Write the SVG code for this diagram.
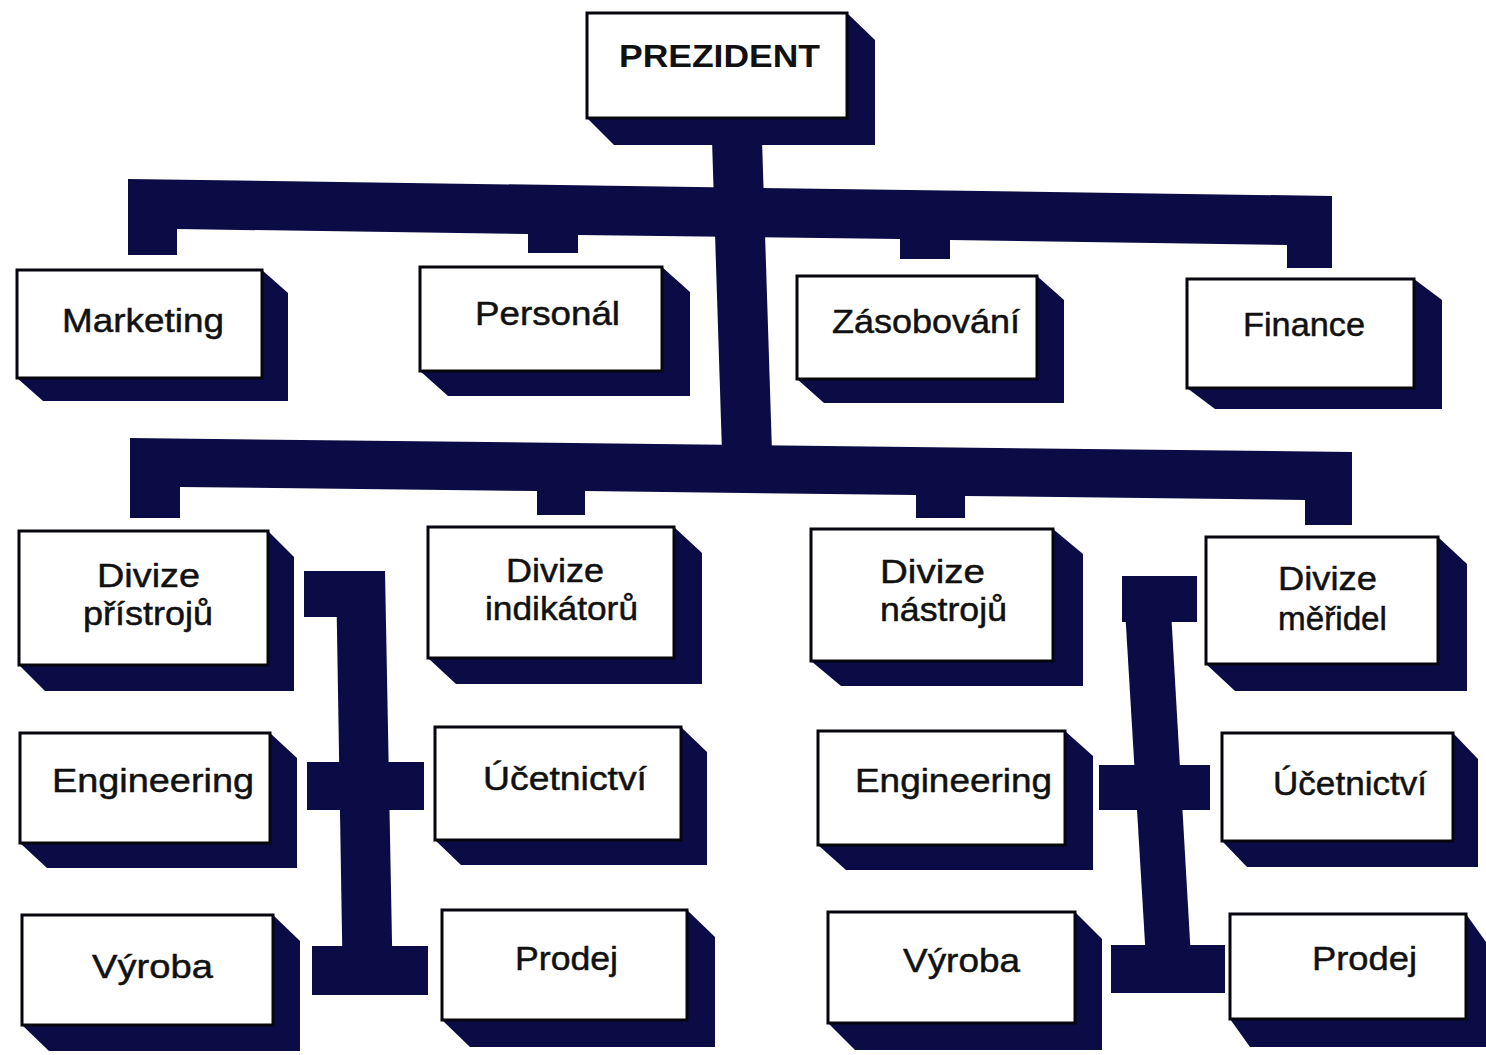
<svg xmlns="http://www.w3.org/2000/svg" width="1486" height="1055" viewBox="0 0 1486 1055">
  <style>
    .bar { fill: #0b0b46; }
    .side { fill: #0b0b46; }
    .face { fill: #ffffff; stroke: #06060f; stroke-width: 3; }
    .lbl { font-family: "Liberation Sans", Arial, sans-serif; font-size: 34px; fill: #111111; stroke: #111111; stroke-width: 0.5; }
    .title { font-family: "Liberation Sans", Arial, sans-serif; font-size: 31px; font-weight: bold; fill: #111111; }
  </style>
  <rect width="1486" height="1055" fill="#ffffff"/>

  <!-- connectors -->
  <g id="connectors">
    <!-- trunk from president down to second bar -->
    <polygon class="bar" points="712,140 762,140 772,452 722,452"/>
    <!-- staff bar with drops -->
    <polygon class="bar" points="128,179 1332,196 1332,268 1287,268 1287,245 950,240 950,259 900,259 900,239 578,235 578,253 528,253 528,234 177,229 177,255 128,255"/>
    <!-- division bar with drops -->
    <polygon class="bar" points="130,438 1352,452 1352,525 1305,525 1305,500 965,496 965,518 916,518 916,495 585,491 585,515 537,515 537,491 180,487 180,518 130,518"/>
    <!-- left I-beam -->
    <rect class="bar" x="304" y="571" width="81" height="46"/>
    <polygon class="bar" points="336,571 385,571 393,995 343,995"/>
    <rect class="bar" x="307" y="762" width="117" height="48"/>
    <rect class="bar" x="312" y="946" width="116" height="49"/>
    <!-- right I-beam -->
    <rect class="bar" x="1122" y="576" width="75" height="46"/>
    <polygon class="bar" points="1123,576 1169,576 1193,993 1148,993"/>
    <rect class="bar" x="1099" y="765" width="111" height="45"/>
    <rect class="bar" x="1111" y="945" width="114" height="48"/>
  </g>

  <!-- nodes: extruded side, then front face, then label -->
  <g id="prezident">
    <polygon class="side" points="847,13 875,40 875,145 614,145 587,118"/>
    <rect class="face" x="587" y="13" width="260" height="105"/>
    <text class="title" x="619" y="67" textLength="201" lengthAdjust="spacingAndGlyphs">PREZIDENT</text>
  </g>

  <g id="marketing">
    <polygon class="side" points="262,270 288,293 288,401 43,401 17,378"/>
    <rect class="face" x="17" y="270" width="245" height="108"/>
    <text class="lbl" x="62" y="332" textLength="162" lengthAdjust="spacingAndGlyphs">Marketing</text>
  </g>

  <g id="personal">
    <polygon class="side" points="662,267 690,292 690,396 448,396 420,371"/>
    <rect class="face" x="420" y="267" width="242" height="104"/>
    <text class="lbl" x="475" y="325" textLength="145" lengthAdjust="spacingAndGlyphs">Personál</text>
  </g>

  <g id="zasobovani">
    <polygon class="side" points="1037,276 1064,300 1064,403 824,403 797,379"/>
    <rect class="face" x="797" y="276" width="240" height="103"/>
    <text class="lbl" x="832" y="333" textLength="188" lengthAdjust="spacingAndGlyphs">Zásobování</text>
  </g>

  <g id="finance">
    <polygon class="side" points="1414,279 1442,300 1442,409 1215,409 1187,388"/>
    <rect class="face" x="1187" y="279" width="227" height="109"/>
    <text class="lbl" x="1243" y="336" textLength="122" lengthAdjust="spacingAndGlyphs">Finance</text>
  </g>

  <g id="divize-pristroju">
    <polygon class="side" points="268,531 294,557 294,691 45,691 19,665"/>
    <rect class="face" x="19" y="531" width="249" height="134"/>
    <text class="lbl" x="97" y="587" textLength="103" lengthAdjust="spacingAndGlyphs">Divize</text>
    <text class="lbl" x="83" y="625" textLength="130" lengthAdjust="spacingAndGlyphs">přístrojů</text>
  </g>

  <g id="divize-indikatoru">
    <polygon class="side" points="674,527 702,553 702,684 456,684 428,658"/>
    <rect class="face" x="428" y="527" width="246" height="131"/>
    <text class="lbl" x="506" y="582" textLength="98" lengthAdjust="spacingAndGlyphs">Divize</text>
    <text class="lbl" x="485" y="620" textLength="153" lengthAdjust="spacingAndGlyphs">indikátorů</text>
  </g>

  <g id="divize-nastroju">
    <polygon class="side" points="1053,529 1083,554 1083,686 841,686 811,661"/>
    <rect class="face" x="811" y="529" width="242" height="132"/>
    <text class="lbl" x="880" y="583" textLength="105" lengthAdjust="spacingAndGlyphs">Divize</text>
    <text class="lbl" x="880" y="621" textLength="127" lengthAdjust="spacingAndGlyphs">nástrojů</text>
  </g>

  <g id="divize-meridel">
    <polygon class="side" points="1438,537 1467,564 1467,691 1235,691 1206,664"/>
    <rect class="face" x="1206" y="537" width="232" height="127"/>
    <text class="lbl" x="1278" y="590" textLength="99" lengthAdjust="spacingAndGlyphs">Divize</text>
    <text class="lbl" x="1278" y="630" textLength="109" lengthAdjust="spacingAndGlyphs">měřidel</text>
  </g>

  <g id="engineering-1">
    <polygon class="side" points="270,733 297,758 297,868 47,868 20,843"/>
    <rect class="face" x="20" y="733" width="250" height="110"/>
    <text class="lbl" x="52" y="792" textLength="202" lengthAdjust="spacingAndGlyphs">Engineering</text>
  </g>

  <g id="ucetnictvi-1">
    <polygon class="side" points="681,727 707,752 707,865 461,865 435,840"/>
    <rect class="face" x="435" y="727" width="246" height="113"/>
    <text class="lbl" x="483" y="790" textLength="164" lengthAdjust="spacingAndGlyphs">Účetnictví</text>
  </g>

  <g id="engineering-2">
    <polygon class="side" points="1065,731 1093,756 1093,870 846,870 818,845"/>
    <rect class="face" x="818" y="731" width="247" height="114"/>
    <text class="lbl" x="855" y="792" textLength="197" lengthAdjust="spacingAndGlyphs">Engineering</text>
  </g>

  <g id="ucetnictvi-2">
    <polygon class="side" points="1453,733 1478,759 1478,867 1247,867 1222,841"/>
    <rect class="face" x="1222" y="733" width="231" height="108"/>
    <text class="lbl" x="1273" y="795" textLength="154" lengthAdjust="spacingAndGlyphs">Účetnictví</text>
  </g>

  <g id="vyroba-1">
    <polygon class="side" points="273,915 300,941 300,1051 49,1051 22,1025"/>
    <rect class="face" x="22" y="915" width="251" height="110"/>
    <text class="lbl" x="92" y="978" textLength="121" lengthAdjust="spacingAndGlyphs">Výroba</text>
  </g>

  <g id="prodej-1">
    <polygon class="side" points="687,910 715,937 715,1047 470,1047 442,1020"/>
    <rect class="face" x="442" y="910" width="245" height="110"/>
    <text class="lbl" x="515" y="970" textLength="103" lengthAdjust="spacingAndGlyphs">Prodej</text>
  </g>

  <g id="vyroba-2">
    <polygon class="side" points="1075,912 1102,939 1102,1050 855,1050 828,1023"/>
    <rect class="face" x="828" y="912" width="247" height="111"/>
    <text class="lbl" x="903" y="972" textLength="117" lengthAdjust="spacingAndGlyphs">Výroba</text>
  </g>

  <g id="prodej-2">
    <polygon class="side" points="1466,914 1486,942 1486,1047 1250,1047 1230,1019"/>
    <rect class="face" x="1230" y="914" width="236" height="105"/>
    <text class="lbl" x="1312" y="970" textLength="105" lengthAdjust="spacingAndGlyphs">Prodej</text>
  </g>
</svg>
